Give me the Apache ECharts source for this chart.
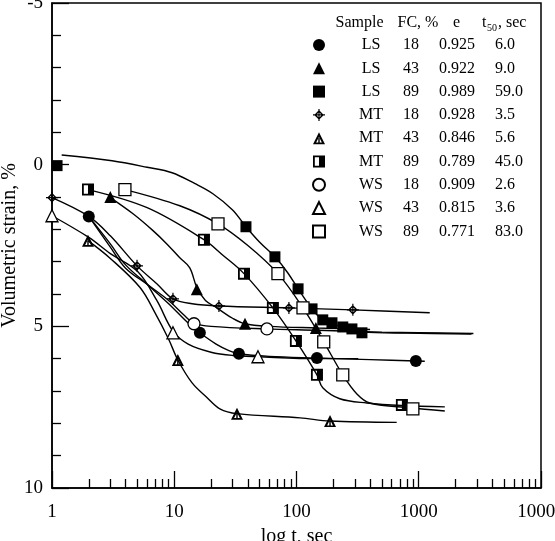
<!DOCTYPE html>
<html>
<head>
<meta charset="utf-8">
<title>Volumetric strain vs log t</title>
<script src="https://cdn.jsdelivr.net/npm/echarts@6/dist/echarts.min.js"></script>
<style>
  html, body { margin: 0; padding: 0; background: #fff; }
  #chart { width: 555px; height: 541px; }
</style>
</head>
<body>
<div id="chart"></div>
<script>
  // Legend table
  var sampleNames = ['LS', 'LS', 'LS', 'MT', 'MT', 'MT', 'WS', 'WS', 'WS'];
  var fcValues = [18, 43, 89, 18, 43, 89, 18, 43, 89];
  var eValues = ['0.925', '0.922', '0.989', '0.928', '0.846', '0.789', '0.909', '0.815', '0.771'];
  var t50Values = ['6.0', '9.0', '59.0', '3.5', '5.6', '45.0', '2.6', '3.6', '83.0'];

  // Measured points  [t (sec), volumetric strain (%)]
  var ls18Marks = [[2, 1.6], [16.2, 5.2], [33.8, 5.85], [147, 5.98], [947, 6.07]];
  var ls43Marks = [[3, 1.0], [15.3, 3.85], [37.9, 4.92], [144, 5.05]];
  var ls89Marks = [[1.1, 0.03], [38.6, 1.92], [66.6, 2.85], [103, 3.84], [134, 4.46], [164, 4.8],
                   [195, 4.89], [239, 5.02], [284, 5.08], [343, 5.2]];
  var mt18Marks = [[1, 1.02], [4.96, 3.13], [9.76, 4.15], [23.2, 4.37], [86.7, 4.43], [289, 4.49]];
  var mt43Marks = [[1.97, 2.35], [10.7, 6.04], [32.6, 7.7], [188, 7.93]];
  var mt89Marks = [[1.97, 0.77], [17.5, 2.32], [37.2, 3.37], [64.1, 4.43], [98.9, 5.45], [147, 6.5], [728, 7.43]];
  var ws18Marks = [[14.5, 4.92], [57.3, 5.08]];
  var ws43Marks = [[1, 1.58], [9.76, 5.2], [48.4, 5.94]];
  var ws89Marks = [[3.95, 0.77], [22.8, 1.83], [70.5, 3.37], [113, 4.43], [167, 5.48], [239, 6.5], [895, 7.55]];

  // Fitted curves  [t (sec), volumetric strain (%)]
  var ls18Curve = [[2, 1.6], [3, 2.45], [4, 3.1], [6, 3.7], [9, 4.3], [13, 4.9], [16.2, 5.2], [22, 5.55],
                   [28, 5.75], [34, 5.85], [60, 5.93], [147, 5.98], [400, 6.03], [1120, 6.08]];
  var ls43Curve = [[3, 1.02], [4.6, 1.52], [6.7, 2.04], [8.7, 2.45], [11.1, 2.88], [13.4, 3.19], [15.3, 3.8],
                   [18, 4.2], [22.3, 4.43], [30, 4.75], [37.9, 4.92], [60, 5.0], [147, 5.05], [400, 5.1]];
  var ls89Curve = [[1.2, -0.3], [3.1, -0.12], [6, 0.08], [9.6, 0.25], [14.8, 0.59], [20.7, 0.9], [30, 1.4],
                   [38.6, 1.92], [50, 2.4], [66.6, 2.85], [85, 3.35], [103, 3.84], [134, 4.46], [164, 4.8],
                   [239, 5.02], [343, 5.17], [800, 5.21], [2700, 5.24]];
  var mt18Curve = [[1, 1.02], [2, 1.6], [3, 2.2], [4.96, 3.13], [7.2, 3.68], [9.76, 4.15], [14, 4.3],
                   [23.2, 4.37], [86.7, 4.43], [289, 4.49], [1230, 4.58]];
  var mt43Curve = [[1.97, 2.35], [3, 2.9], [5.25, 3.8], [7, 4.6], [9, 5.4], [10.7, 6.04], [14, 6.75],
                   [18.5, 7.2], [23.6, 7.55], [32.6, 7.7], [107, 7.83], [188, 7.93], [660, 7.97]];
  var mt89Curve = [[1.97, 0.77], [6, 1.33], [17.5, 2.32], [25, 2.8], [37.2, 3.37], [64.1, 4.43], [98.9, 5.45],
                   [147, 6.5], [164, 6.9], [226, 7.24], [376, 7.37], [728, 7.45], [1634, 7.49]];
  var ws18Curve = [[2, 1.6], [3, 2.55], [4, 3.2], [6, 3.7], [9, 4.2], [12, 4.65], [14.5, 4.9], [20, 5.0],
                   [57, 5.08], [150, 5.12], [500, 5.18], [1000, 5.2], [2800, 5.22]];
  var ws43Curve = [[1, 1.58], [2, 2.25], [3, 2.75], [5, 3.3], [7.2, 4.2], [9.76, 5.15], [13, 5.55], [20, 5.8],
                   [30, 5.9], [48.4, 5.94], [150, 6.0], [320, 6.0]];
  var ws89Curve = [[3.95, 0.77], [11.1, 1.27], [22.8, 1.83], [40, 2.5], [70.5, 3.37], [113, 4.43], [167, 5.48],
                   [239, 6.5], [312, 7.09], [398, 7.37], [845, 7.52], [1634, 7.62]];

  // minor ticks of the log axis
  var xMinorTicks = [2, 3, 4, 5, 6, 7, 8, 9, 20, 30, 40, 50, 60, 70, 80, 90,
                     200, 300, 400, 500, 600, 700, 800, 900, 2000, 3000, 4000, 5000, 6000, 7000, 8000, 9000];

  var FONT = '"Liberation Serif", "Times New Roman", serif';

  // custom marker shapes
  var PATH_MT18 = 'path://M5,1L9,5L5,9L1,5Z M5,2.6L2.6,5L5,7.4L7.4,5Z M0,4.5L10,4.5L10,5.5L0,5.5Z M4.5,0L5.5,0L5.5,10L4.5,10Z';
  var PATH_MT43 = 'path://M5,0L10,10L0,10Z M5,4L2.6,8.6L7.4,8.6Z M4.4,5L5.6,5L5.6,8.6L4.4,8.6Z';
  var PATH_MT89 = 'path://M0,0L10,0L10,10L0,10Z M1.5,1.5L1.5,8.5L5,8.5L5,1.5Z';

  var solid = { color: '#000', opacity: 1 };
  var hollow = { color: '#fff', borderColor: '#000', borderWidth: 1.3, opacity: 1 };

  var sets = [
    { marks: ls18Marks, curve: ls18Curve, symbol: 'circle', size: 12, style: solid },
    { marks: ls43Marks, curve: ls43Curve, symbol: 'triangle', size: 12, style: solid },
    { marks: ls89Marks, curve: ls89Curve, symbol: 'rect', size: 11, style: solid },
    { marks: mt18Marks, curve: mt18Curve, symbol: PATH_MT18, size: 12, style: solid },
    { marks: mt43Marks, curve: mt43Curve, symbol: PATH_MT43, size: 12, style: solid },
    { marks: mt89Marks, curve: mt89Curve, symbol: PATH_MT89, size: 12, style: solid },
    { marks: ws18Marks, curve: ws18Curve, symbol: 'circle', size: 12, style: hollow },
    { marks: ws43Marks, curve: ws43Curve, symbol: 'triangle', size: 12, style: hollow },
    { marks: ws89Marks, curve: ws89Curve, symbol: 'rect', size: 12, style: hollow }
  ];

  var legendNames = sampleNames.map(function (s, i) { return s + ' ' + fcValues[i]; });

  var series = [];
  sets.forEach(function (s) {
    series.push({
      type: 'line', data: s.curve, smooth: 0.35, showSymbol: false, silent: true, z: 2,
      lineStyle: { color: '#000', width: 1.4 }
    });
  });
  sets.forEach(function (s, i) {
    series.push({
      name: legendNames[i], type: 'scatter', data: s.marks, symbol: s.symbol,
      symbolSize: s.size, itemStyle: s.style, silent: true, z: 3
    });
  });

  function txt(size) {
    return { fontFamily: FONT, fontSize: size, color: '#000', lineHeight: size };
  }
  var rich = {
    p: Object.assign(txt(16), { width: 20 }),
    s: Object.assign(txt(16), { width: 42, align: 'center' }),
    f: Object.assign(txt(16), { width: 38, align: 'center' }),
    e: Object.assign(txt(16), { width: 54, align: 'center' }),
    q: Object.assign(txt(16), { width: 11 }),
    t: Object.assign(txt(16), { align: 'left' })
  };

  var chart = echarts.init(document.getElementById('chart'));
  var option = {
    animation: false,
    backgroundColor: '#fff',
    grid: {
      left: 52, right: 14, top: 3, bottom: 53, outerBoundsMode: 'none',
      show: true, borderColor: '#000', borderWidth: 1.5
    },
    xAxis: [{
      type: 'log', logBase: 10, min: 1, max: 10000, position: 'bottom',
      name: 'log t, sec', nameLocation: 'middle', nameGap: 33,
      nameTextStyle: { fontFamily: FONT, fontSize: 20, color: '#000' },
      axisLine: { onZero: false, lineStyle: { color: '#000', width: 1.5 } },
      axisTick: { inside: true, length: 17, lineStyle: { color: '#000', width: 1.3 } },
      axisLabel: {
        fontFamily: FONT, fontSize: 19, color: '#000', margin: 15,
        formatter: function (v) { return String(Math.round(v)); }
      },
      splitLine: { show: false }
    }, {
      type: 'log', logBase: 10, min: 1, max: 10000, position: 'bottom', gridIndex: 0,
      axisLine: { show: false, onZero: false },
      axisTick: { inside: true, length: 9, customValues: xMinorTicks, lineStyle: { color: '#000', width: 1.3 } },
      axisLabel: { show: false },
      splitLine: { show: false }
    }],
    yAxis: {
      type: 'value', inverse: true, min: -5, max: 10, interval: 5,
      name: 'Volumetric strain, %', nameLocation: 'middle', nameGap: 32, nameMoveOverlap: false,
      nameTextStyle: { fontFamily: FONT, fontSize: 20, color: '#000' },
      axisLine: { onZero: false, lineStyle: { color: '#000', width: 1.5 } },
      axisTick: { inside: true, length: 17, lineStyle: { color: '#000', width: 1.3 } },
      minorTick: { show: true, splitNumber: 5, length: 9, lineStyle: { color: '#000', width: 1.3 } },
      axisLabel: { fontFamily: FONT, fontSize: 19, color: '#000', margin: 9 },
      splitLine: { show: false }
    },
    legend: {
      data: legendNames, orient: 'vertical', left: 307, top: 32,
      itemWidth: 12, itemHeight: 12, itemGap: 7.3, selectedMode: false,
      formatter: function (name) {
        var i = legendNames.indexOf(name);
        return '{p| }{s|' + sampleNames[i] + '}{f|' + fcValues[i] + '}{e|' + eValues[i] +
          '}{q| }{t|' + t50Values[i] + '}';
      },
      textStyle: { fontFamily: FONT, fontSize: 16, color: '#000', rich: rich }
    },
    graphic: [
      { type: 'text', style: { text: 'Sample', x: 359.5, y: 23, textAlign: 'center', textVerticalAlign: 'middle', font: '16px ' + FONT, fill: '#000' } },
      { type: 'text', style: { text: 'FC, %', x: 418, y: 23, textAlign: 'center', textVerticalAlign: 'middle', font: '16px ' + FONT, fill: '#000' } },
      { type: 'text', style: { text: 'e', x: 456.5, y: 23, textAlign: 'center', textVerticalAlign: 'middle', font: '16px ' + FONT, fill: '#000' } },
      { type: 'text', style: { text: 't', x: 482, y: 23, textAlign: 'left', textVerticalAlign: 'middle', font: '16px ' + FONT, fill: '#000' } },
      { type: 'text', style: { text: '50', x: 487, y: 28, textAlign: 'left', textVerticalAlign: 'middle', font: '10px ' + FONT, fill: '#000' } },
      { type: 'text', style: { text: ', sec', x: 498, y: 23, textAlign: 'left', textVerticalAlign: 'middle', font: '16px ' + FONT, fill: '#000' } }
    ],
    series: series
  };
  chart.setOption(option);
</script>
</body>
</html>
